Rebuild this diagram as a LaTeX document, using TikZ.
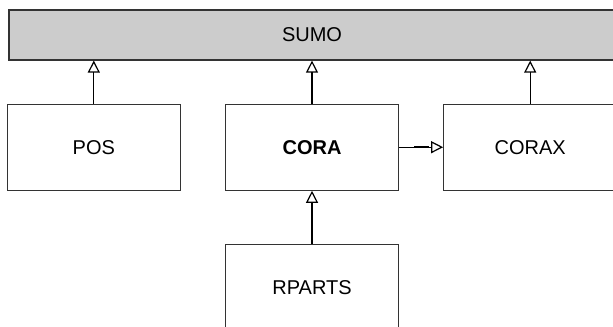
\documentclass[tikz,border=0pt]{standalone}
\usepackage{fontspec}
\setmainfont{Liberation Sans}
\usepackage{tikz}
\usetikzlibrary{calc, positioning, arrows.meta}

\begin{document}
\begin{tikzpicture}[
        box/.style={draw=black!80, line width=0.6pt, fill=white, minimum width=86.5pt, minimum height=43pt,
                inner sep=0pt, font=\fontsize{10}{12}\selectfont},
        topbox/.style={box, fill=black!20, minimum width=303pt, minimum height=25pt},
        isa/.style={draw=black, line width=0.6pt, -{Triangle[open, length=6pt, width=6pt]}},
        tick/.style={draw=black, line width=1pt}
    ]
    \clip (0,0) rectangle (306.5pt,-163pt);
    % top level ontology
    \node[topbox] (sumo) at (156pt,-17.5pt) {SUMO};
    % middle row
    \node[box, below=21.5pt of sumo] (cora) {\textbf{CORA}};
    \node[box, left=22pt of cora] (pos) {POS};
    \node[box, right=22pt of cora] (corax) {CORAX};
    % bottom
    \node[box, below=26.5pt of cora] (rparts) {RPARTS};

    \draw[isa] (pos.north) -- (pos.north |- sumo.south);
    \draw[isa] (cora.north) -- (cora.north |- sumo.south);
    \draw[isa] (corax.north) -- (corax.north |- sumo.south);
    \draw[isa] (cora.east) -- (corax.west);
    \draw[isa] (rparts.north) -- (cora.south);

    \draw[tick] ($(cora.north)!0.54!(cora.north |- sumo.south)$) -- ($(cora.north)!0.62!(cora.north |- sumo.south)$);
    \draw[tick] ($(cora.east)!0.34!(corax.west)$) -- ($(cora.east)!0.68!(corax.west)$);
    \draw[tick] ($(rparts.north)!0.47!(cora.south)$) -- ($(rparts.north)!0.53!(cora.south)$);
\end{tikzpicture}
\end{document}
